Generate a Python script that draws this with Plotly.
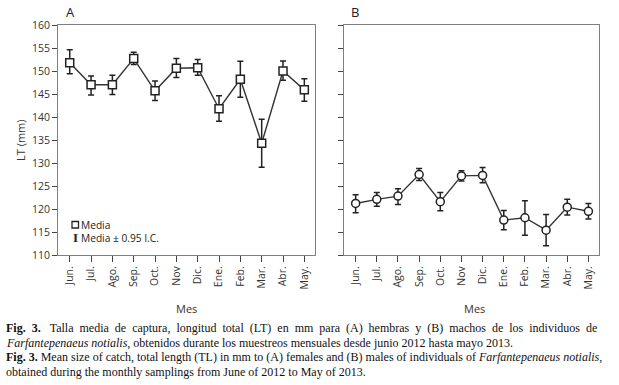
import plotly.graph_objects as go

months = ["Jun.", "Jul.", "Ago.", "Sep.", "Oct.", "Nov", "Dic.", "Ene.", "Feb.", "Mar.", "Abr.", "May."]

# Panel A (hembras)
a_mean = [151.8, 147.0, 147.0, 152.7, 145.7, 150.6, 150.7, 141.8, 148.2, 134.3, 150.0, 145.9]
a_hi = [154.6, 148.9, 149.1, 154.1, 147.8, 152.7, 152.5, 144.6, 152.1, 139.5, 152.2, 148.3]
a_lo = [149.4, 144.8, 144.9, 151.4, 143.6, 148.6, 149.1, 139.1, 144.3, 129.1, 148.0, 143.4]

# Panel B (machos)
b_mean = [121.2, 122.1, 122.8, 127.5, 121.6, 127.2, 127.3, 117.6, 118.1, 115.4, 120.4, 119.5]
b_hi = [123.1, 123.6, 124.4, 128.8, 123.6, 128.3, 129.0, 119.7, 121.8, 118.8, 122.1, 121.2]
b_lo = [119.2, 120.6, 121.0, 126.2, 119.6, 126.1, 125.7, 115.5, 114.3, 112.0, 118.7, 117.8]

y_ticks = [110, 115, 120, 125, 130, 135, 140, 145, 150, 155, 160]

W, H = 619, 385
def px(x):
    return x / W
def py(y):
    return 1 - y / H

fig = go.Figure()

def add_series(mean, hi, lo, symbol, xa, ya):
    fig.add_trace(go.Scatter(
        x=list(range(len(months))), y=mean, mode="lines+markers",
        line=dict(color="#333333", width=1.4),
        marker=dict(symbol=symbol, size=8, color="white", line=dict(color="#222222", width=1.5)),
        error_y=dict(type="data", symmetric=False,
                     array=[h - m for h, m in zip(hi, mean)],
                     arrayminus=[m - l for m, l in zip(mean, lo)],
                     color="#222222", thickness=1.5, width=3),
        xaxis=xa, yaxis=ya, showlegend=False, hoverinfo="skip"))

add_series(a_mean, a_hi, a_lo, "square", "x", "y")
add_series(b_mean, b_hi, b_lo, "circle", "x2", "y2")

axis_font = dict(family="Open Sans, sans-serif", size=10.5, color="#333333")
common_x = dict(range=[-0.55, 11.5], tickmode="array", tickvals=list(range(12)), ticktext=months,
                tickangle=-90, ticks="outside", ticklen=6, tickcolor="#444444", tickwidth=1,
                showline=True, linecolor="#808080", linewidth=1, mirror=True, automargin=False,
                showgrid=False, zeroline=False, tickfont=axis_font, fixedrange=True)
common_y = dict(range=[110, 160], tickmode="array", tickvals=y_ticks,
                ticks="outside", ticklen=5, tickcolor="#444444", tickwidth=1,
                showline=True, linecolor="#808080", linewidth=1, mirror=True, automargin=False,
                showgrid=False, zeroline=False, tickfont=axis_font, fixedrange=True)

fig.update_layout(
    width=W, height=H, margin=dict(l=0, r=0, t=0, b=0, autoexpand=False),
    paper_bgcolor="white", plot_bgcolor="white",
    xaxis=dict(domain=[px(58), px(315)], anchor="y", **common_x),
    yaxis=dict(domain=[py(255), py(25)], anchor="x", **common_y),
    xaxis2=dict(domain=[px(344), px(599)], anchor="y2", **common_x),
    yaxis2=dict(domain=[py(255), py(25)], anchor="x2", showticklabels=False, **common_y),
)

ann = []
sans = "Open Sans, sans-serif"
serif = "Liberation Serif, Times New Roman, serif"
def note(x, y, text, font, xanchor="left", **kw):
    ann.append(dict(x=px(x), y=py(y), xref="paper", yref="paper", text=text, showarrow=False,
                    xanchor=xanchor, yanchor="middle", font=font, borderpad=0, **kw))

note(65, 12, "A", dict(family=sans, size=13, color="#222"))
note(350, 12, "B", dict(family=sans, size=13, color="#222"))
note(20, 140, "LT (mm)", dict(family=sans, size=11, color="#333"), xanchor="center", textangle=-90)
note(186, 308, "Mes", dict(family=sans, size=11, color="#333"), xanchor="center")
note(474, 308, "Mes", dict(family=sans, size=11, color="#333"), xanchor="center")
# legend
note(80, 231, "Media<br>Media ± 0.95 I.C.", dict(family=sans, size=10.2, color="#222"), align="left")
note(75.5, 237.5, "<b>I</b>", dict(family=serif, size=13, color="#222"), xanchor="center")
# caption
cap_font = dict(family=serif, size=12, color="#111")
NB = "\u00a0"
line1 = "Talla media de captura, longitud total (LT) en mm para (A) hembras y (B) machos de los individuos de"
line1 = line1.replace(" ", " " + NB)
captions = [
    (328, "<b>Fig." + NB + " 3.</b> " + NB + NB + line1),
    (343, "<i>Farfantepenaeus notialis</i>, obtenidos durante los muestreos mensuales desde junio 2012 hasta mayo 2013."),
    (357, "<b>Fig. 3.</b> Mean size of catch, total length (TL) in mm to (A) females and (B) males of individuals of <i>Farfantepenaeus notialis</i>,"),
    (372, "obtained during the monthly samplings from June of 2012 to May of 2013."),
]
for yy, t in captions:
    note(5, yy, t, cap_font)
fig.update_layout(annotations=ann)

fig.add_shape(type="rect", xref="paper", yref="paper",
              x0=px(72), x1=px(78.5), y0=py(228), y1=py(221.5),
              line=dict(color="#222", width=1.3), fillcolor="white")

fig.write_html("out.html", config={"displayModeBar": False},
               post_script="document.body.style.margin='0';document.body.style.padding='0';")
